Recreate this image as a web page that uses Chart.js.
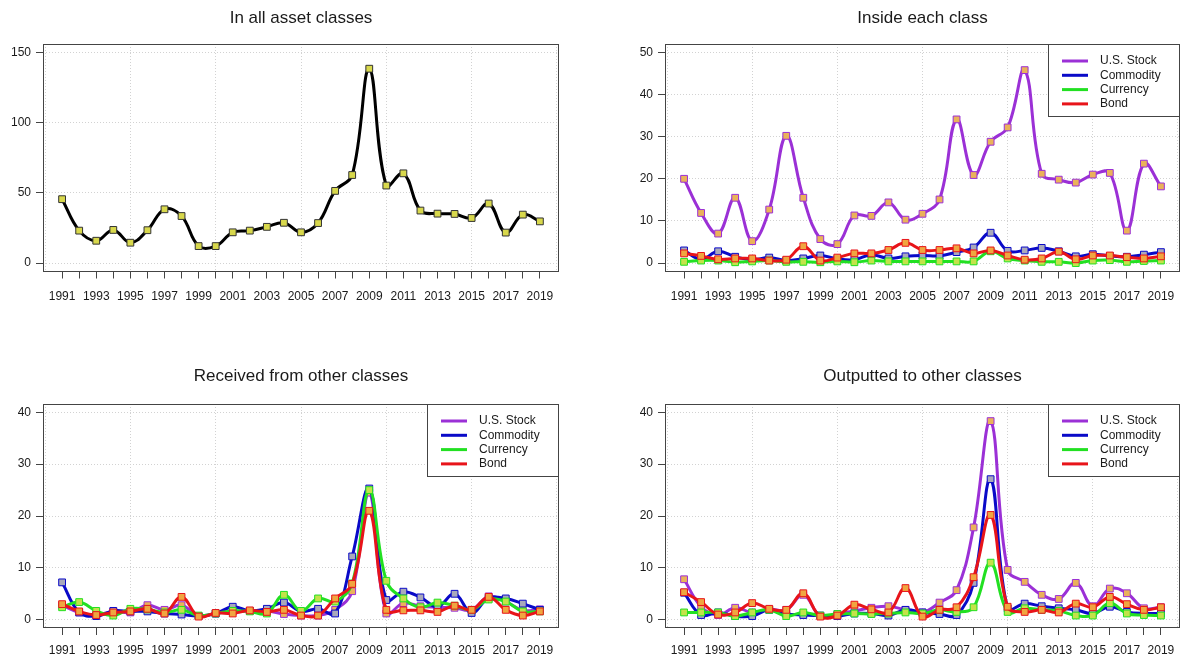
<!DOCTYPE html>
<html>
<head>
<meta charset="utf-8">
<title>Connectedness between asset classes</title>
<script src="https://cdn.jsdelivr.net/npm/chart.js@4.4.1/dist/chart.umd.min.js"></script>
<style>
  html, body { margin: 0; padding: 0; background: #fff; overflow: hidden; }
  #wrap { position: relative; width: 1183px; height: 657px; overflow: hidden; }
  canvas { position: absolute; }
</style>
</head>
<body>
<div id="wrap">
  <canvas id="pAll" width="591" height="328" style="left:0;top:0"></canvas>
  <canvas id="pInside" width="600" height="328" style="left:591px;top:0"></canvas>
  <canvas id="pReceived" width="591" height="329" style="left:0;top:328px"></canvas>
  <canvas id="pOutput" width="600" height="329" style="left:591px;top:328px"></canvas>
</div>
<script>
// ---- data ----
const years = [1991, 1992, 1993, 1994, 1995, 1996, 1997, 1998, 1999, 2000,
  2001, 2002, 2003, 2004, 2005, 2006, 2007, 2008, 2009, 2010,
  2011, 2012, 2013, 2014, 2015, 2016, 2017, 2018, 2019];
const xLabelYears = [1991, 1993, 1995, 1997, 1999, 2001, 2003, 2005, 2007, 2009,
  2011, 2013, 2015, 2017, 2019];
const xGridYears = [1990, 1995, 2000, 2005, 2010, 2015, 2020];
const yTicksAll = [0, 50, 100, 150];
const yTicksInside = [0, 10, 20, 30, 40, 50];
const yTicksFlow = [0, 10, 20, 30, 40];

const seriesNames = ['U.S. Stock', 'Commodity', 'Currency', 'Bond'];

const allClasses = [45.5, 23.1, 15.9, 23.6, 14.5, 23.4, 38.3, 33.5, 12.1, 12.1,
  21.9, 23.1, 25.8, 28.7, 21.9, 28.5, 51.4, 62.7, 138.4, 55.2,
  63.9, 37.4, 35.2, 35.0, 32.1, 42.4, 21.7, 34.5, 29.7];

const insideStock = [20.0, 11.9, 7.0, 15.5, 5.2, 12.7, 30.2, 15.5, 5.7, 4.5,
  11.3, 11.2, 14.4, 10.3, 11.7, 15.1, 34.1, 20.9, 28.8, 32.2,
  45.8, 21.2, 19.8, 19.1, 21.0, 21.4, 7.7, 23.6, 18.2];
const insideCommodity = [3.0, 0.9, 2.8, 1.5, 0.8, 1.3, 0.6, 1.1, 1.8, 1.0,
  0.8, 2.0, 1.1, 1.6, 1.8, 1.7, 2.6, 3.7, 7.2, 2.9,
  3.0, 3.6, 2.8, 1.6, 2.1, 1.7, 1.5, 2.0, 2.6];
const insideCurrency = [0.3, 0.6, 0.6, 0.2, 0.4, 0.6, 0.3, 0.3, 0.2, 0.4,
  0.2, 0.6, 0.4, 0.4, 0.4, 0.4, 0.4, 0.4, 2.8, 1.1,
  0.6, 0.3, 0.3, 0.0, 0.6, 0.7, 0.3, 0.5, 0.6];
const insideBond = [2.3, 1.7, 0.9, 1.1, 1.1, 0.6, 0.8, 4.0, 0.6, 1.3,
  2.3, 2.3, 3.1, 4.8, 3.1, 3.1, 3.5, 2.3, 3.0, 1.8,
  0.8, 1.1, 2.7, 0.9, 1.8, 1.8, 1.4, 1.1, 1.6];

const receivedStock = [2.8, 1.4, 0.9, 1.6, 1.4, 2.8, 1.9, 2.8, 0.7, 1.2,
  1.6, 1.7, 1.7, 1.1, 0.8, 0.8, 1.9, 5.5, 24.5, 1.2,
  3.2, 2.6, 2.4, 2.3, 1.9, 4.5, 3.5, 1.8, 2.0];
const receivedCommodity = [7.2, 1.4, 0.7, 1.7, 1.6, 1.6, 1.2, 1.0, 0.7, 1.2,
  2.5, 1.7, 2.1, 3.3, 1.6, 2.1, 1.2, 12.2, 25.3, 3.8,
  5.4, 4.3, 2.5, 5.0, 1.3, 4.2, 4.1, 3.1, 1.9];
const receivedCurrency = [2.4, 3.4, 1.7, 0.8, 2.1, 2.0, 1.4, 1.9, 0.8, 1.2,
  1.7, 1.6, 1.2, 4.8, 1.7, 4.1, 3.5, 7.0, 25.0, 7.5,
  4.1, 2.4, 3.3, 2.7, 1.9, 3.9, 3.5, 1.6, 1.6];
const receivedBond = [3.0, 1.6, 0.9, 1.4, 1.6, 2.1, 1.2, 4.4, 0.6, 1.3,
  1.2, 1.8, 1.5, 1.9, 0.8, 0.8, 4.1, 6.9, 21.0, 1.9,
  1.8, 1.8, 1.5, 2.7, 1.9, 4.4, 1.9, 0.8, 1.6];

const outputStock = [7.8, 2.5, 0.9, 2.3, 1.4, 2.0, 1.9, 4.8, 0.7, 1.1,
  1.7, 2.3, 2.6, 1.9, 1.4, 3.3, 5.7, 17.8, 38.3, 9.6,
  7.3, 4.8, 4.0, 7.1, 2.6, 6.0, 5.1, 2.2, 2.4];
const outputCommodity = [5.2, 0.9, 1.4, 0.7, 0.7, 1.9, 1.1, 0.9, 0.8, 0.7,
  1.2, 1.2, 0.8, 1.9, 1.4, 1.1, 0.9, 7.1, 27.1, 2.2,
  3.1, 2.6, 2.2, 1.9, 1.2, 2.5, 1.5, 1.2, 1.2];
const outputCurrency = [1.4, 1.4, 1.4, 0.7, 1.4, 1.9, 0.7, 1.4, 0.8, 1.1,
  1.2, 1.1, 1.2, 1.4, 1.2, 1.9, 1.5, 2.4, 11.0, 1.5,
  2.2, 1.9, 1.7, 0.8, 0.8, 3.2, 1.2, 0.9, 0.8];
const outputBond = [5.3, 3.4, 1.0, 1.4, 3.2, 2.1, 1.9, 5.1, 0.6, 0.8,
  2.9, 2.0, 1.4, 6.1, 0.6, 1.9, 2.4, 8.2, 20.2, 2.5,
  1.5, 1.9, 1.4, 3.1, 2.4, 4.4, 3.0, 1.9, 2.4];

// ---- styles ----
const FONT = '"Liberation Sans", Arial, Helvetica, sans-serif';
const lineColors = ['#9b30d6', '#0a0ac8', '#22e022', '#e8141a'];
const pointFills = ['#eab25a', '#a9a9bb', '#c4e24a', '#f0a640'];
const GRID = '#d2d2d2';
const AXIS = '#444';
const TEXT = '#1a1a1a';

Chart.defaults.font.family = FONT;
Chart.defaults.animation = false;

// full box around the plot region, like R's box()
const frame = {
  id: 'frame',
  afterDraw(chart) {
    const { ctx, chartArea: a } = chart;
    ctx.save();
    ctx.strokeStyle = AXIS;
    ctx.lineWidth = 1;
    ctx.strokeRect(Math.round(a.left) + 0.5, Math.round(a.top) + 0.5,
      Math.round(a.right - a.left) - 1, Math.round(a.bottom - a.top) - 1);
    ctx.restore();
  }
};

// title centred over the plot region
const panelTitle = {
  id: 'panelTitle',
  afterDraw(chart, args, opts) {
    const { ctx, chartArea: a } = chart;
    ctx.save();
    ctx.font = '17px ' + FONT;
    ctx.fillStyle = TEXT;
    ctx.textAlign = 'center';
    ctx.textBaseline = 'middle';
    ctx.fillText(opts.text, (a.left + a.right) / 2, opts.y);
    ctx.restore();
  }
};

// boxed legend in the top-right corner of the plot region
const boxLegend = {
  id: 'boxLegend',
  afterDraw(chart, args, opts) {
    if (!opts.show) return;
    const { ctx, chartArea: a } = chart;
    const w = 132, h = 73;
    const x0 = Math.round(a.right - w), y0 = Math.round(a.top);
    ctx.save();
    ctx.fillStyle = '#fff';
    ctx.fillRect(x0, y0, w, h);
    ctx.strokeStyle = AXIS;
    ctx.lineWidth = 1;
    ctx.strokeRect(x0 + 0.5, y0 + 0.5, w - 1, h - 1);
    ctx.font = '12px ' + FONT;
    ctx.textBaseline = 'middle';
    chart.data.datasets.forEach((ds, i) => {
      const y = y0 + 17 + i * 14.3;
      ctx.strokeStyle = ds.borderColor;
      ctx.lineWidth = 3;
      ctx.beginPath();
      ctx.moveTo(x0 + 14, y);
      ctx.lineTo(x0 + 40, y);
      ctx.stroke();
      ctx.fillStyle = TEXT;
      ctx.fillText(ds.label, x0 + 52, y);
    });
    ctx.restore();
  }
};

function makeDataset(label, values, color, fill, order) {
  return {
    label: label,
    data: years.map((yr, i) => ({ x: yr, y: values[i] })),
    borderColor: color,
    borderWidth: 3,
    tension: 0.4,
    pointStyle: 'rect',
    pointRadius: 4.8,
    pointBorderWidth: 1,
    pointBorderColor: color,
    pointBackgroundColor: fill,
    order: order
  };
}

function makePanel(canvasId, cfg) {
  const canvas = document.getElementById(canvasId);
  const W = canvas.width, H = canvas.height;
  const a = cfg.area;
  const xTicks = [...new Set([...xGridYears, ...years])].sort((p, q) => p - q);

  return new Chart(canvas.getContext('2d'), {
    type: 'line',
    data: { datasets: cfg.datasets },
    options: {
      responsive: false,
      layout: {
        autoPadding: false,
        padding: { left: 0, top: a.top, right: W - a.right, bottom: 0 }
      },
      scales: {
        x: {
          type: 'linear',
          min: 1989.88,
          max: 2020.12,
          afterBuildTicks: s => { s.ticks = xTicks.map(v => ({ value: v })); },
          afterFit: s => { s.height = H - a.bottom; },
          ticks: {
            autoSkip: false,
            maxRotation: 0,
            minRotation: 0,
            padding: cfg.labelPad,
            color: TEXT,
            font: { size: 12 },
            callback: v => xLabelYears.includes(v) ? String(v) : ''
          },
          grid: {
            color: c => c.tick && xGridYears.includes(c.tick.value) ? GRID : 'rgba(0,0,0,0)',
            tickColor: c => c.tick && years.includes(c.tick.value) ? AXIS : 'rgba(0,0,0,0)',
            tickLength: 7,
            tickBorderDash: []
          },
          border: { display: false, dash: [1, 2] }
        },
        y: {
          min: cfg.yMin,
          max: cfg.yMax,
          afterBuildTicks: s => { s.ticks = cfg.yTicks.map(v => ({ value: v })); },
          afterFit: s => { s.width = a.left; },
          ticks: { padding: 5, color: TEXT, font: { size: 12 } },
          grid: { color: GRID, tickColor: AXIS, tickLength: 7, tickBorderDash: [] },
          border: { display: false, dash: [1, 2] }
        }
      },
      plugins: {
        legend: { display: false },
        tooltip: { enabled: false },
        panelTitle: { text: cfg.title, y: cfg.titleY },
        boxLegend: { show: cfg.legend }
      }
    },
    plugins: [frame, panelTitle, boxLegend]
  });
}

function fourSeries(lists) {
  // later series are drawn on top (Bond last), as in the original plot
  return lists.map((vals, i) =>
    makeDataset(seriesNames[i], vals, lineColors[i], pointFills[i], lists.length - i));
}

// plot regions in canvas pixels
const topArea = { left: 43, top: 44, right: 559, bottom: 271.5 };
const topAreaR = { left: 74, top: 44, right: 589, bottom: 271.5 };
const botArea = { left: 43, top: 76, right: 559, bottom: 300 };
const botAreaR = { left: 74, top: 76, right: 589, bottom: 300 };

makePanel('pAll', {
  title: 'In all asset classes', titleY: 18, area: topArea, labelPad: 11,
  yMin: -6, yMax: 156, yTicks: yTicksAll, legend: false,
  datasets: [Object.assign(makeDataset('All', allClasses, '#000', '#d8d84c', 0),
    { pointBorderColor: '#333' })]
});

makePanel('pInside', {
  title: 'Inside each class', titleY: 18, area: topAreaR, labelPad: 11,
  yMin: -2, yMax: 52, yTicks: yTicksInside, legend: true,
  datasets: fourSeries([insideStock, insideCommodity, insideCurrency, insideBond])
});

makePanel('pReceived', {
  title: 'Received from other classes', titleY: 48, area: botArea, labelPad: 8,
  yMin: -1.6, yMax: 41.6, yTicks: yTicksFlow, legend: true,
  datasets: fourSeries([receivedStock, receivedCommodity, receivedCurrency, receivedBond])
});

makePanel('pOutput', {
  title: 'Outputted to other classes', titleY: 48, area: botAreaR, labelPad: 8,
  yMin: -1.6, yMax: 41.6, yTicks: yTicksFlow, legend: true,
  datasets: fourSeries([outputStock, outputCommodity, outputCurrency, outputBond])
});
</script>
</body>
</html>
